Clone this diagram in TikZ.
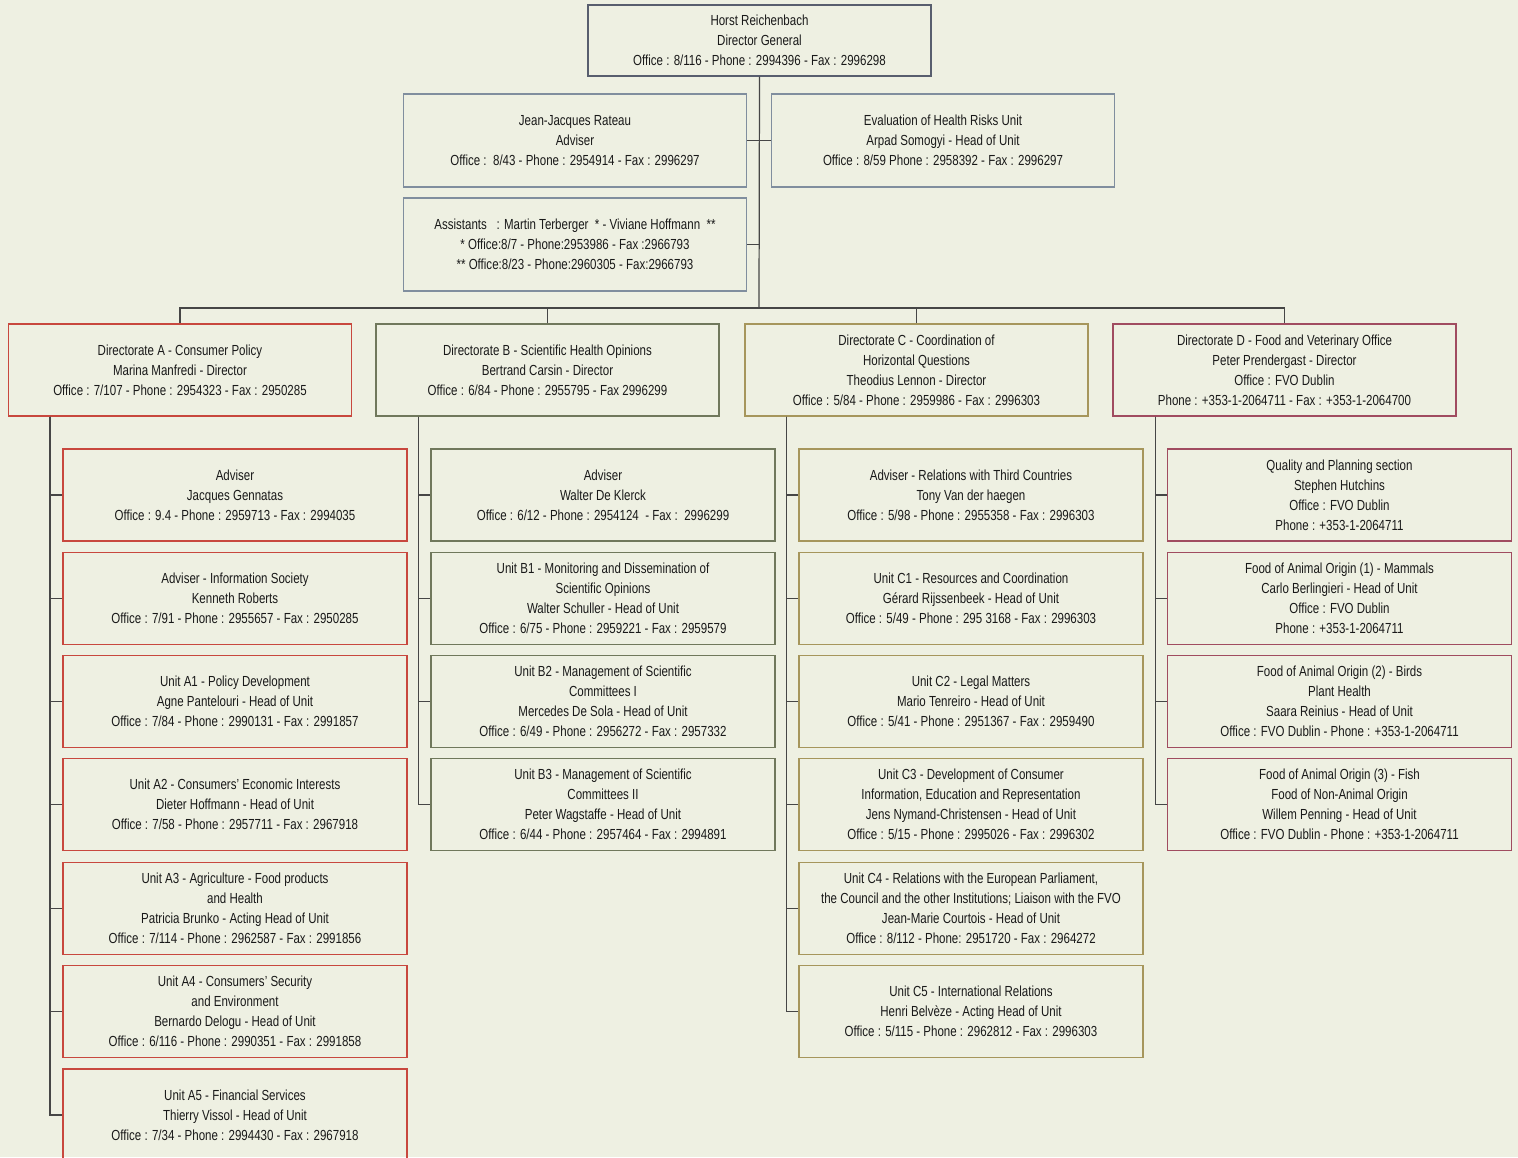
\documentclass[tikz,border=0pt]{standalone}
\usepackage{fontspec}
\setmainfont[FakeStretch=0.79]{Liberation Sans}
\definecolor{paper}{RGB}{238,240,226}
\definecolor{slate}{RGB}{88,94,110}
\definecolor{slatelight}{RGB}{128,142,158}
\definecolor{redA}{RGB}{200,72,62}
\definecolor{oliveB}{RGB}{112,120,92}
\definecolor{khakiC}{RGB}{166,150,92}
\definecolor{mauveD}{RGB}{160,76,96}
\definecolor{linkgray}{RGB}{70,70,70}
\definecolor{inkgray}{RGB}{25,25,25}

\begin{document}
\begin{tikzpicture}[
        every node/.style={font=\fontsize{8.3}{11.4}\selectfont,align=center,text=inkgray},
        box/.style={draw,minimum width=6.86cm,minimum height=1.84cm,line width=0.62pt,inner sep=0pt},
        topbox/.style={box,draw=slate,minimum height=1.42cm},
        staffbox/.style={box,draw=slatelight,minimum height=1.86cm},
        dirbox/.style={box},
        unitbox/.style={box,minimum width=6.88cm},
        link/.style={draw=linkgray,line width=0.7pt}
    ]

    % Page and background
    \useasboundingbox (0,0) rectangle (30.36,-23.14);
    \fill[paper] (0,0) rectangle (30.36,-23.14);

    % Director General and staff
    \node[topbox] (dg) at (15.19,-0.81)
        {Horst Reichenbach\\Director General\\Office : 8/116 - Phone : 2994396 - Fax : 2996298};

    \node[staffbox] (rateau) at (11.50,-2.81)
        {Jean-Jacques Rateau\\Adviser\\Office :\ \ 8/43 - Phone : 2954914 - Fax : 2996297};
    \node[staffbox] (evalunit) at (18.86,-2.81)
        {Evaluation of Health Risks Unit\\Arpad Somogyi - Head of Unit\\Office : 8/59 Phone : 2958392 - Fax : 2996297};
    \node[staffbox] (assist) at (11.50,-4.89)
        {Assistants\ \ \ : Martin Terberger\ \ * - Viviane Hoffmann\ \ **\\
         * Office:8/7 - Phone:2953986 - Fax :2966793\\
         ** Office:8/23 - Phone:2960305 - Fax:2966793};

    \coordinate (hub) at (15.18,-6.16);

    % Directorates
    \node[dirbox,draw=redA] (dirA) at (3.60,-7.40)
        {Directorate A - Consumer Policy\\Marina Manfredi - Director\\Office : 7/107 - Phone : 2954323 - Fax : 2950285};
    \node[dirbox,draw=oliveB] (dirB) at (10.95,-7.40)
        {Directorate B - Scientific Health Opinions\\Bertrand Carsin - Director\\Office : 6/84 - Phone : 2955795 - Fax 2996299};
    \node[dirbox,draw=khakiC] (dirC) at (18.33,-7.40)
        {Directorate C - Coordination of\\Horizontal Questions\\Theodius Lennon - Director\\Office : 5/84 - Phone : 2959986 - Fax : 2996303};
    \node[dirbox,draw=mauveD] (dirD) at (25.69,-7.40)
        {Directorate D - Food and Veterinary Office\\Peter Prendergast - Director\\Office : FVO Dublin\\Phone : +353-1-2064711 - Fax : +353-1-2064700};

    % Directorate A units
    \node[unitbox,draw=redA] (a1) at (4.70,-9.90)
        {Adviser\\Jacques Gennatas\\Office : 9.4 - Phone : 2959713 - Fax : 2994035};
    \node[unitbox,draw=redA] (a2) at (4.70,-11.97)
        {Adviser - Information Society\\Kenneth Roberts\\Office : 7/91 - Phone : 2955657 - Fax : 2950285};
    \node[unitbox,draw=redA] (a3) at (4.70,-14.03)
        {Unit A1 - Policy Development\\Agne Pantelouri - Head of Unit\\Office : 7/84 - Phone : 2990131 - Fax : 2991857};
    \node[unitbox,draw=redA] (a4) at (4.70,-16.09)
        {Unit A2 - Consumers' Economic Interests\\Dieter Hoffmann - Head of Unit\\Office : 7/58 - Phone : 2957711 - Fax : 2967918};
    \node[unitbox,draw=redA] (a5) at (4.70,-18.17)
        {Unit A3 - Agriculture - Food products\\and Health\\Patricia Brunko - Acting Head of Unit\\Office : 7/114 - Phone : 2962587 - Fax : 2991856};
    \node[unitbox,draw=redA] (a6) at (4.70,-20.23)
        {Unit A4 - Consumers' Security\\and Environment\\Bernardo Delogu - Head of Unit\\Office : 6/116 - Phone : 2990351 - Fax : 2991858};
    \node[unitbox,draw=redA] (a7) at (4.70,-22.30)
        {Unit A5 - Financial Services\\Thierry Vissol - Head of Unit\\Office : 7/34 - Phone : 2994430 - Fax : 2967918};

    % Directorate B units
    \node[unitbox,draw=oliveB] (b1) at (12.06,-9.90)
        {Adviser\\Walter De Klerck\\Office : 6/12 - Phone : 2954124\ \ - Fax :\ \ 2996299};
    \node[unitbox,draw=oliveB] (b2) at (12.06,-11.97)
        {Unit B1 - Monitoring and Dissemination of\\Scientific Opinions\\Walter Schuller - Head of Unit\\Office : 6/75 - Phone : 2959221\ - Fax : 2959579};
    \node[unitbox,draw=oliveB] (b3) at (12.06,-14.03)
        {Unit B2 - Management of Scientific\\Committees I\\Mercedes De Sola - Head of Unit\\Office : 6/49 - Phone : 2956272 - Fax : 2957332};
    \node[unitbox,draw=oliveB] (b4) at (12.06,-16.09)
        {Unit B3 - Management of Scientific\\Committees II\\Peter Wagstaffe - Head of Unit\\Office : 6/44 - Phone : 2957464 - Fax : 2994891};

    % Directorate C units
    \node[unitbox,draw=khakiC] (c1) at (19.42,-9.90)
        {Adviser - Relations with Third Countries\\Tony Van der haegen\\Office : 5/98 - Phone : 2955358 - Fax : 2996303};
    \node[unitbox,draw=khakiC] (c2) at (19.42,-11.97)
        {Unit C1 - Resources and Coordination\\Gérard Rijssenbeek - Head of Unit\\Office : 5/49 - Phone : 295 3168 - Fax : 2996303};
    \node[unitbox,draw=khakiC] (c3) at (19.42,-14.03)
        {Unit C2 - Legal Matters\\Mario Tenreiro - Head of Unit\\Office : 5/41 - Phone : 2951367 - Fax : 2959490};
    \node[unitbox,draw=khakiC] (c4) at (19.42,-16.09)
        {Unit C3 - Development of Consumer\\Information, Education and Representation\\Jens Nymand-Christensen - Head of Unit\\Office : 5/15 - Phone : 2995026 - Fax : 2996302};
    \node[unitbox,draw=khakiC] (c5) at (19.42,-18.17)
        {Unit C4 - Relations with the European Parliament,\\the Council and the other Institutions; Liaison with the FVO\\Jean-Marie Courtois - Head of Unit\\Office : 8/112 - Phone: 2951720 - Fax : 2964272};
    \node[unitbox,draw=khakiC] (c6) at (19.42,-20.23)
        {Unit C5 - International Relations\\Henri Belvèze - Acting Head of Unit\\Office : 5/115 - Phone : 2962812 - Fax : 2996303};

    % Directorate D units
    \node[unitbox,draw=mauveD] (d1) at (26.79,-9.90)
        {Quality and Planning section\\Stephen Hutchins\\Office : FVO Dublin\\Phone : +353-1-2064711};
    \node[unitbox,draw=mauveD] (d2) at (26.79,-11.97)
        {Food of Animal Origin (1) - Mammals\\Carlo Berlingieri - Head of Unit\\Office : FVO Dublin\\Phone : +353-1-2064711};
    \node[unitbox,draw=mauveD] (d3) at (26.79,-14.03)
        {Food of Animal Origin (2) - Birds\\Plant Health\\Saara Reinius - Head of Unit\\Office : FVO Dublin - Phone : +353-1-2064711};
    \node[unitbox,draw=mauveD] (d4) at (26.79,-16.09)
        {Food of Animal Origin (3) - Fish\\Food of Non-Animal Origin\\Willem Penning - Head of Unit\\Office : FVO Dublin - Phone : +353-1-2064711};

    % Top connectors
    \draw[link] (dg.south) -- (hub);
    \draw[link] (rateau.east) -- (evalunit.west);
    \draw[link] (assist.east) -- (assist.east -| hub);
    \draw[link] (dirA.north) |- (hub) -| (dirD.north);
    \draw[link] (dirB.north) -- (dirB.north |- hub);
    \draw[link] (dirC.north) -- (dirC.north |- hub);

    % Unit connectors
    \draw[link] ([xshift=0.84cm]dirA.south west) |- (a1.west);
    \draw[link] ([xshift=0.84cm]dirA.south west) |- (a2.west);
    \draw[link] ([xshift=0.84cm]dirA.south west) |- (a3.west);
    \draw[link] ([xshift=0.84cm]dirA.south west) |- (a4.west);
    \draw[link] ([xshift=0.84cm]dirA.south west) |- (a5.west);
    \draw[link] ([xshift=0.84cm]dirA.south west) |- (a6.west);
    \draw[link] ([xshift=0.84cm]dirA.south west) |- (a7.west);

    \draw[link] ([xshift=0.86cm]dirB.south west) |- (b1.west);
    \draw[link] ([xshift=0.86cm]dirB.south west) |- (b2.west);
    \draw[link] ([xshift=0.86cm]dirB.south west) |- (b3.west);
    \draw[link] ([xshift=0.86cm]dirB.south west) |- (b4.west);

    \draw[link] ([xshift=0.84cm]dirC.south west) |- (c1.west);
    \draw[link] ([xshift=0.84cm]dirC.south west) |- (c2.west);
    \draw[link] ([xshift=0.84cm]dirC.south west) |- (c3.west);
    \draw[link] ([xshift=0.84cm]dirC.south west) |- (c4.west);
    \draw[link] ([xshift=0.84cm]dirC.south west) |- (c5.west);
    \draw[link] ([xshift=0.84cm]dirC.south west) |- (c6.west);

    \draw[link] ([xshift=0.86cm]dirD.south west) |- (d1.west);
    \draw[link] ([xshift=0.86cm]dirD.south west) |- (d2.west);
    \draw[link] ([xshift=0.86cm]dirD.south west) |- (d3.west);
    \draw[link] ([xshift=0.86cm]dirD.south west) |- (d4.west);

\end{tikzpicture}
\end{document}
